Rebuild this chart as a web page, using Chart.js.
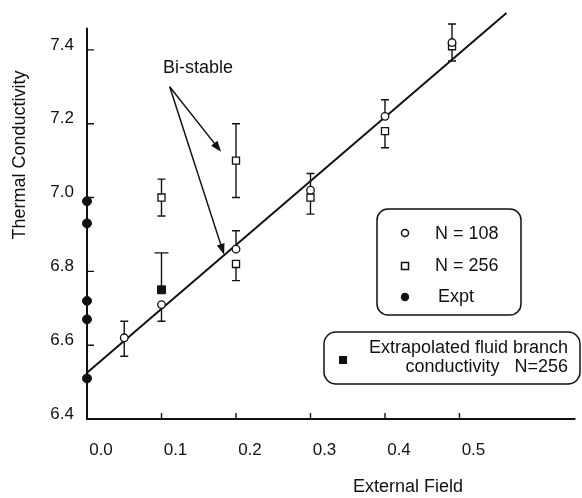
<!DOCTYPE html>
<html>
<head>
<meta charset="utf-8">
<script src="https://cdn.jsdelivr.net/npm/chart.js@4.4.0/dist/chart.umd.min.js"></script>
<style>
  html, body { margin: 0; padding: 0; background: #fff; }
</style>
</head>
<body>
<canvas id="myChart" width="582" height="498"></canvas>
<script>
// simulation N=108 (open circles)
const n108X = [0.05, 0.1, 0.2, 0.3, 0.4, 0.49];
const n108Y = [6.62, 6.71, 6.86, 7.02, 7.22, 7.42];
const n108ErrUp = [0.045, 0, 0.05, 0.045, 0.045, 0.05];
const n108ErrDown = [0.05, 0.045, 0, 0, 0, 0];

// simulation N=256 (open squares)
const n256X = [0.1, 0.2, 0.2, 0.3, 0.4, 0.49];
const n256Y = [7.0, 7.1, 6.82, 7.0, 7.18, 7.41];
const n256ErrUp = [0.05, 0.1, 0, 0, 0, 0];
const n256ErrDown = [0.05, 0.1, 0.045, 0.045, 0.045, 0.04];

// experiment (filled circles, at zero field)
const exptX = [0, 0, 0, 0, 0];
const exptY = [6.99, 6.93, 6.72, 6.67, 6.51];

// extrapolated fluid branch (filled square)
const extrapX = [0.1];
const extrapY = [6.75];
const extrapErrUp = [0.1];

// straight fit line
const fitX = [0, 0.563];
const fitY = [6.525, 7.5];

// "Bi-stable" note: label, arrow start and arrow tips in data units
const bistableLabel = [0.102, 7.351];
const bistableFrom = [0.111, 7.30];
const bistableTips = [[0.180, 7.124], [0.184, 6.845]];

const yTickLabels = ["6.4", "6.6", "6.8", "7.0", "7.2", "7.4"];
const xTickLabels = ["0.0", "0.1", "0.2", "0.3", "0.4", "0.5", ""];

const ink = "#111";
const fontFamily = "'Liberation Sans', Arial, Helvetica, sans-serif";

const toPoints = (xs, ys) => xs.map((v, i) => ({ x: v, y: ys[i] }));

const errorSets = [
  { x: n108X, y: n108Y, up: n108ErrUp, down: n108ErrDown, cap: 4 },
  { x: n256X, y: n256Y, up: n256ErrUp, down: n256ErrDown, cap: 4 },
  { x: extrapX, y: extrapY, up: extrapErrUp, down: [0], cap: 7 },
];

function drawArrow(ctx, x0, y0, x1, y1) {
  const ang = Math.atan2(y1 - y0, x1 - x0);
  const len = 11, half = 4;
  ctx.beginPath();
  ctx.moveTo(x0, y0);
  ctx.lineTo(x1 - Math.cos(ang) * len * 0.8, y1 - Math.sin(ang) * len * 0.8);
  ctx.stroke();
  ctx.beginPath();
  ctx.moveTo(x1, y1);
  ctx.lineTo(x1 - Math.cos(ang) * len - Math.sin(ang) * half, y1 - Math.sin(ang) * len + Math.cos(ang) * half);
  ctx.lineTo(x1 - Math.cos(ang) * len + Math.sin(ang) * half, y1 - Math.sin(ang) * len - Math.cos(ang) * half);
  ctx.closePath();
  ctx.fill();
}

const overlay = {
  id: "overlay",
  beforeDatasetsDraw(chart) {
    const { ctx, scales: { x, y } } = chart;
    ctx.save();
    ctx.strokeStyle = ink;
    ctx.lineWidth = 1.4;
    errorSets.forEach((s) => {
      s.x.forEach((xv, i) => {
        const px = x.getPixelForValue(xv);
        const py = y.getPixelForValue(s.y[i]);
        [s.y[i] + s.up[i], s.y[i] - s.down[i]].forEach((end, k) => {
          if (!(k === 0 ? s.up[i] : s.down[i])) return;
          const pe = y.getPixelForValue(end);
          ctx.beginPath();
          ctx.moveTo(px, py);
          ctx.lineTo(px, pe);
          ctx.moveTo(px - s.cap, pe);
          ctx.lineTo(px + s.cap, pe);
          ctx.stroke();
        });
      });
    });
    ctx.restore();
  },
  afterDraw(chart) {
    const { ctx, chartArea: a, scales: { x, y } } = chart;
    ctx.save();
    ctx.strokeStyle = ink;
    ctx.fillStyle = ink;

    // axes with inward ticks
    ctx.lineWidth = 2;
    ctx.beginPath();
    ctx.moveTo(a.left, y.getPixelForValue(7.46));
    ctx.lineTo(a.left, a.bottom);
    ctx.lineTo(a.right, a.bottom);
    ctx.stroke();
    ctx.lineWidth = 1.4;
    ctx.beginPath();
    y.ticks.forEach((t) => {
      if (t.value <= 6.41 || t.value > 7.45) return;
      const p = y.getPixelForValue(t.value);
      ctx.moveTo(a.left, p);
      ctx.lineTo(a.left + 7, p);
    });
    x.ticks.forEach((t) => {
      if (t.value < 0.01 || t.value > 0.62) return;
      const p = x.getPixelForValue(t.value);
      ctx.moveTo(p, a.bottom);
      ctx.lineTo(p, a.bottom - 6);
    });
    ctx.stroke();

    // tick labels
    ctx.font = `17px ${fontFamily}`;
    ctx.textBaseline = "middle";
    ctx.textAlign = "right";
    y.ticks.forEach((t, i) => {
      if (yTickLabels[i] === undefined) return;
      ctx.fillText(yTickLabels[i], a.left - 13, y.getPixelForValue(t.value) - 5);
    });
    ctx.textAlign = "center";
    x.ticks.forEach((t, i) => {
      if (!xTickLabels[i]) return;
      ctx.fillText(xTickLabels[i], x.getPixelForValue(t.value) + 14, a.bottom + 31);
    });

    // axis titles
    ctx.font = `18px ${fontFamily}`;
    ctx.fillText("External Field", 408, 487);
    ctx.save();
    ctx.translate(20, 155);
    ctx.rotate(-Math.PI / 2);
    ctx.fillText("Thermal Conductivity", 0, 0);
    ctx.restore();

    // Bi-stable annotation
    ctx.textAlign = "left";
    ctx.fillText("Bi-stable", x.getPixelForValue(bistableLabel[0]), y.getPixelForValue(bistableLabel[1]));
    ctx.lineWidth = 1.5;
    const fx = x.getPixelForValue(bistableFrom[0]);
    const fy = y.getPixelForValue(bistableFrom[1]);
    bistableTips.forEach((t) => {
      drawArrow(ctx, fx, fy, x.getPixelForValue(t[0]), y.getPixelForValue(t[1]));
    });

    // legend box 1
    ctx.lineWidth = 1.5;
    ctx.beginPath();
    ctx.roundRect(377, 209, 144, 106, 11);
    ctx.stroke();
    ctx.beginPath();
    ctx.arc(405, 233, 3.5, 0, Math.PI * 2);
    ctx.fillStyle = "#fff";
    ctx.fill();
    ctx.stroke();
    ctx.fillRect(401.5, 262.5, 7, 7);
    ctx.strokeRect(401.5, 262.5, 7, 7);
    ctx.fillStyle = ink;
    ctx.beginPath();
    ctx.arc(405, 297, 4.2, 0, Math.PI * 2);
    ctx.fill();
    ctx.fillText("N = 108", 435, 234);
    ctx.fillText("N = 256", 435, 266);
    ctx.fillText("Expt", 438, 297);

    // legend box 2
    ctx.beginPath();
    ctx.roundRect(324, 332, 256, 52, 12);
    ctx.stroke();
    ctx.fillRect(339, 356, 8, 8);
    ctx.textAlign = "right";
    ctx.fillText("Extrapolated fluid branch", 568, 348);
    ctx.fillText("conductivity   N=256", 568, 367);

    ctx.restore();
  },
};

const ctxChart = document.getElementById("myChart").getContext("2d");
const chart = new Chart(ctxChart, {
  type: "scatter",
  data: {
    datasets: [
      {
        label: "N = 108",
        data: toPoints(n108X, n108Y),
        pointStyle: "circle",
        pointRadius: 3.8,
        backgroundColor: "#fff",
        borderColor: ink,
        borderWidth: 1.3,
        clip: false,
      },
      {
        label: "N = 256",
        data: toPoints(n256X, n256Y),
        pointStyle: "rect",
        pointRadius: 5,
        backgroundColor: "#fff",
        borderColor: ink,
        borderWidth: 1.3,
        clip: false,
      },
      {
        label: "Expt",
        data: toPoints(exptX, exptY),
        pointStyle: "circle",
        pointRadius: 4.5,
        backgroundColor: ink,
        borderColor: ink,
        borderWidth: 1,
        clip: false,
      },
      {
        label: "Extrapolated fluid branch conductivity N=256",
        data: toPoints(extrapX, extrapY),
        pointStyle: "rect",
        pointRadius: 5.6,
        backgroundColor: ink,
        borderColor: ink,
        borderWidth: 1,
        clip: false,
      },
      {
        label: "fit",
        data: toPoints(fitX, fitY),
        showLine: true,
        pointRadius: 0,
        borderColor: ink,
        borderWidth: 2,
        clip: false,
      },
    ],
  },
  options: {
    responsive: false,
    animation: false,
    devicePixelRatio: 1,
    layout: { padding: { top: 13, left: 0, right: 0, bottom: 0 } },
    plugins: {
      legend: { display: false },
      tooltip: { enabled: false },
    },
    scales: {
      x: {
        type: "linear",
        min: 0,
        max: 0.6556,
        border: { display: false },
        grid: { display: false, drawTicks: false },
        ticks: { display: false, stepSize: 0.1, autoSkip: false },
        afterFit: (s) => { s.height = 79; },
      },
      y: {
        min: 6.4,
        max: 7.5,
        border: { display: false },
        grid: { display: false, drawTicks: false },
        ticks: { display: false, stepSize: 0.2, autoSkip: false },
        afterFit: (s) => { s.width = 87; },
      },
    },
  },
  plugins: [overlay],
});
</script>
</body>
</html>
